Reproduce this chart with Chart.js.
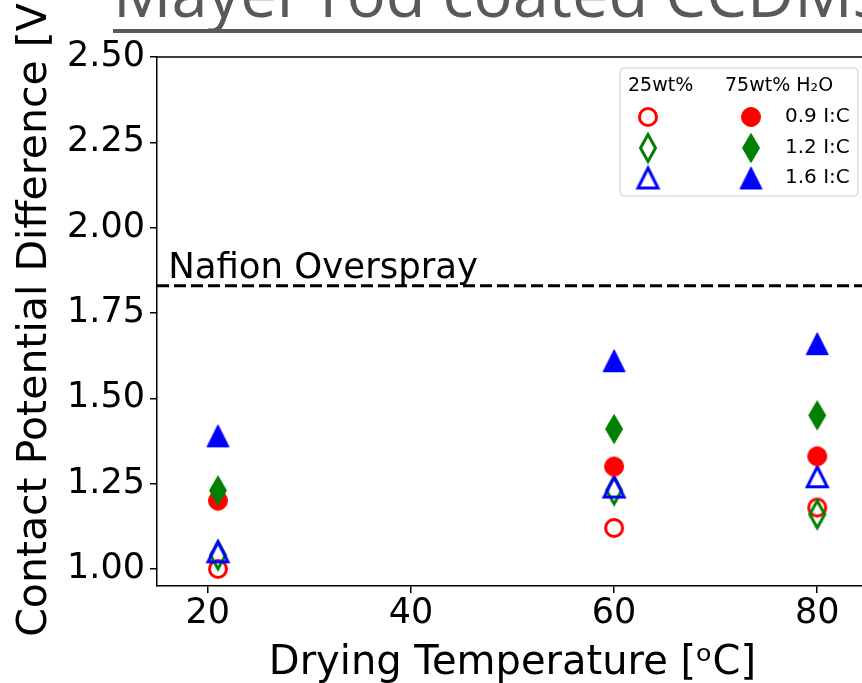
<!DOCTYPE html>
<html>
<head>
<meta charset="utf-8">
<script src="https://cdn.jsdelivr.net/npm/chart.js@4.4.1/dist/chart.umd.min.js"></script>
<style>
  html, body { margin: 0; padding: 0; background: #fff; overflow: hidden; }
  #wrap { position: relative; width: 940px; height: 683px; }
  #chart { display: block; width: 940px; height: 683px; }
</style>
</head>
<body>
<div id="wrap"><canvas id="chart" width="940" height="683"></canvas></div>
<script>
// Drying temperatures (°C)
const temperatures = [21, 60, 80];

// Contact potential difference [V], 25wt% H2O inks (open markers)
const low09 = [1.00, 1.12, 1.18];
const low12 = [1.04, 1.23, 1.16];
const low16 = [1.05, 1.24, 1.27];

// Contact potential difference [V], 75wt% H2O inks (filled markers)
const high09 = [1.20, 1.30, 1.33];
const high12 = [1.23, 1.41, 1.45];
const high16 = [1.39, 1.61, 1.66];

// Reference level of the Nafion overspray sample
const nafionLevel = 1.83;

const xTicks = [20, 40, 60, 80];
const yTicks = [1.00, 1.25, 1.50, 1.75, 2.00, 2.25, 2.50];
const ratioLabels = ['0.9 I:C', '1.2 I:C', '1.6 I:C'];

const RED = '#ff0000', GREEN = '#008000', BLUE = '#0000ff';

// Marker sprites: circle, thin diamond, triangle; filled or hollow
function marker(shape, color, filled) {
  const dims = { o: [20, 20], d: [18, 30], '^': [23, 23] }[shape];
  const lw = filled ? 1 : 3;
  const pad = 3;
  const c = document.createElement('canvas');
  c.width = dims[0] + pad * 2;
  c.height = dims[1] + pad * 2;
  const g = c.getContext('2d');
  const cx = c.width / 2, cy = c.height / 2;
  const w = dims[0] - lw, h = dims[1] - lw;
  g.beginPath();
  if (shape === 'o') {
    g.arc(cx, cy, w / 2, 0, Math.PI * 2);
  } else if (shape === 'd') {
    g.moveTo(cx, cy - h / 2);
    g.lineTo(cx + w / 2, cy);
    g.lineTo(cx, cy + h / 2);
    g.lineTo(cx - w / 2, cy);
    g.closePath();
  } else {
    g.moveTo(cx, cy - h / 2);
    g.lineTo(cx + w / 2, cy + h / 2);
    g.lineTo(cx - w / 2, cy + h / 2);
    g.closePath();
  }
  g.lineJoin = 'miter';
  g.lineWidth = lw;
  g.strokeStyle = color;
  if (filled) { g.fillStyle = color; g.fill(); }
  g.stroke();
  return c;
}

const markers = {
  low09: marker('o', RED, false),
  low12: marker('d', GREEN, false),
  low16: marker('^', BLUE, false),
  high09: marker('o', RED, true),
  high12: marker('d', GREEN, true),
  high16: marker('^', BLUE, true)
};

function series(label, values, key, order) {
  return {
    type: 'scatter',
    label: label,
    data: temperatures.map((t, i) => ({ x: t, y: values[i] })),
    pointStyle: markers[key],
    pointRadius: 12,
    showLine: false,
    order: order
  };
}

// Top spine, y-axis label, annotation, legend and slide heading
const decorations = {
  id: 'decorations',
  afterDraw(chart) {
    const { ctx, chartArea: a, scales } = chart;
    ctx.save();
    ctx.strokeStyle = '#000';
    ctx.lineWidth = 1.5;
    ctx.beginPath();
    ctx.moveTo(a.left, a.top);
    ctx.lineTo(a.right, a.top);
    ctx.stroke();

    // y-axis label
    ctx.save();
    ctx.translate(35, 312);
    ctx.rotate(-Math.PI / 2);
    ctx.fillStyle = '#000';
    ctx.font = '41px "DejaVu Sans"';
    ctx.textAlign = 'center';
    ctx.textBaseline = 'middle';
    ctx.fillText('Contact Potential Difference [V]', 0, 0);
    ctx.restore();

    // annotation above the dashed level
    ctx.fillStyle = '#000';
    ctx.font = '35.5px "DejaVu Sans"';
    ctx.textBaseline = 'alphabetic';
    ctx.textAlign = 'left';
    ctx.fillText('Nafion Overspray', scales.x.getPixelForValue(16.1), scales.y.getPixelForValue(nafionLevel) - 8);

    // legend box
    const lx = 620, ly = 68, lw = 238, lh = 128;
    ctx.beginPath();
    ctx.roundRect(lx, ly, lw, lh, 4);
    ctx.fillStyle = 'rgba(255,255,255,0.85)';
    ctx.fill();
    ctx.strokeStyle = '#cccccc';
    ctx.lineWidth = 1;
    ctx.stroke();

    ctx.fillStyle = '#000';
    ctx.font = '19px "DejaVu Sans"';
    ctx.textBaseline = 'middle';
    ctx.fillText('25wt%', 628, 86);
    ctx.fillText('75wt% H\u2082O', 725, 86);
    ctx.font = '20px "DejaVu Sans"';
    const rows = [['low09', 'high09'], ['low12', 'high12'], ['low16', 'high16']];
    const rowY = [117, 148, 178];
    rows.forEach((r, i) => {
      const mo = markers[r[0]], mf = markers[r[1]];
      ctx.drawImage(mo, 648 - mo.width / 2, rowY[i] - mo.height / 2);
      ctx.drawImage(mf, 751 - mf.width / 2, rowY[i] - mf.height / 2);
      ctx.fillText(ratioLabels[i], 785, rowY[i]);
    });

    // slide heading, underlined
    ctx.font = '65px "Open Sans"';
    ctx.fillStyle = '#595959';
    ctx.textBaseline = 'alphabetic';
    const head = 'Mayer rod coated CCDMs';
    ctx.fillText(head, 113, 17);
    const hw = ctx.measureText(head).width;
    ctx.fillRect(113, 29, hw, 4);
    ctx.restore();
  }
};

new Chart(document.getElementById('chart'), {
  type: 'scatter',
  data: {
    datasets: [
      {
        type: 'line',
        label: 'Nafion Overspray',
        data: [{ x: 15, y: nafionLevel }, { x: 85, y: nafionLevel }],
        borderColor: '#000',
        borderWidth: 3,
        borderDash: [12, 5],
        pointRadius: 0,
        fill: false,
        order: 10
      },
      series('0.9 I:C 25wt%', low09, 'low09', 6),
      series('1.2 I:C 25wt%', low12, 'low12', 5),
      series('1.6 I:C 25wt%', low16, 'low16', 4),
      series('0.9 I:C 75wt%', high09, 'high09', 3),
      series('1.2 I:C 75wt%', high12, 'high12', 2),
      series('1.6 I:C 75wt%', high16, 'high16', 1)
    ]
  },
  options: {
    responsive: false,
    maintainAspectRatio: false,
    animation: false,
    events: [],
    devicePixelRatio: 1,
    layout: { padding: { left: 0, top: 57, right: 72, bottom: 0 } },
    plugins: { legend: { display: false }, tooltip: { enabled: false } },
    scales: {
      x: {
        type: 'linear',
        min: 15,
        max: 85,
        afterBuildTicks(s) { s.ticks = xTicks.map(v => ({ value: v })); },
        afterFit(s) { s.height = 97; },
        grid: { drawOnChartArea: false, drawTicks: true, tickLength: 7, color: '#000', lineWidth: 1.5 },
        border: { display: true, color: '#000', width: 1.5 },
        ticks: { color: '#000', font: { family: 'DejaVu Sans', size: 35 }, padding: 0, maxRotation: 0 },
        title: {
          display: true,
          text: 'Drying Temperature [\u1D52C]',
          color: '#000',
          font: { family: 'DejaVu Sans', size: 40, lineHeight: 0.95 },
          padding: { top: 0, bottom: 0 }
        }
      },
      y: {
        type: 'linear',
        min: 0.95,
        max: 2.5,
        afterBuildTicks(s) { s.ticks = yTicks.map(v => ({ value: v })); },
        afterFit(s) { s.width = 157; },
        grid: { drawOnChartArea: false, drawTicks: true, tickLength: 7, color: '#000', lineWidth: 1.5 },
        border: { display: true, color: '#000', width: 1.5 },
        ticks: {
          color: '#000',
          font: { family: 'DejaVu Sans', size: 35 },
          padding: 5,
          callback: v => Number(v).toFixed(2)
        },
        title: { display: false }
      }
    }
  },
  plugins: [decorations]
});
</script>
</body>
</html>
